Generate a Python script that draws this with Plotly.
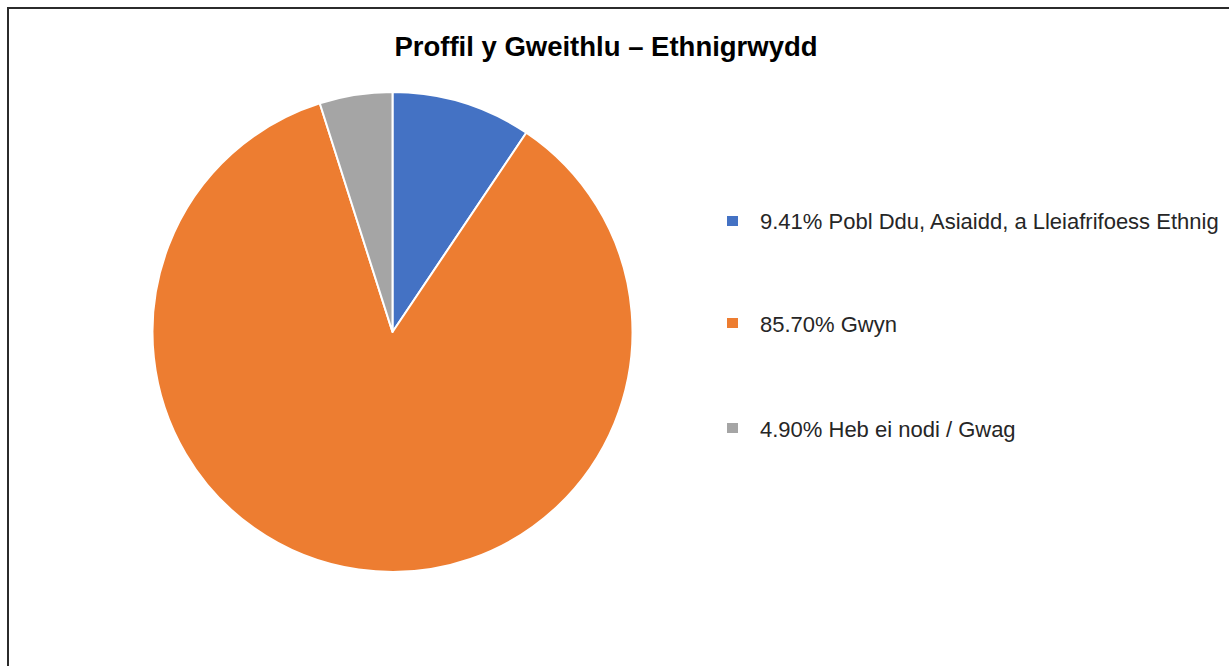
import plotly.graph_objects as go

# Data
categories = ["Pobl Ddu, Asiaidd, a Lleiafrifoess Ethnig", "Gwyn", "Heb ei nodi / Gwag"]
values = [9.41, 85.70, 4.90]
colors = ["#4472C4", "#ED7D31", "#A5A5A5"]
title_text = "Proffil y Gweithlu – Ethnigrwydd"

W, H = 1229, 666
cx, cy, r = 392.5, 332, 240

fig = go.Figure()
fig.add_trace(go.Pie(
    labels=categories,
    values=values,
    sort=False,
    direction="clockwise",
    rotation=0,
    marker=dict(colors=colors, line=dict(color="white", width=2)),
    textinfo="none",
    hoverinfo="label+percent",
    showlegend=False,
    domain=dict(x=[(cx - r) / W, (cx + r) / W],
                y=[(H - cy - r) / H, (H - cy + r) / H]),
))

# Custom legend
legend_y = [221, 323, 428]
shapes = []
annotations = []
for cat, val, col, ly in zip(categories, values, colors, legend_y):
    shapes.append(dict(type="rect", xref="paper", yref="paper",
                       x0=727 / W, x1=738 / W,
                       y0=1 - (ly + 5) / H, y1=1 - (ly - 5) / H,
                       fillcolor=col, line=dict(width=0)))
    annotations.append(dict(xref="paper", yref="paper", x=758 / W, y=1 - (ly + 1) / H,
                            xanchor="left", yanchor="middle", showarrow=False,
                            text=f"{val:.2f}% {cat}",
                            font=dict(family="Liberation Sans, Arial", size=22, color="#262626")))

# Border lines (top and left)
shapes.append(dict(type="line", xref="paper", yref="paper",
                   x0=7 / W, x1=1, y0=1 - 8 / H, y1=1 - 8 / H,
                   line=dict(color="#2b2b2b", width=2)))
shapes.append(dict(type="line", xref="paper", yref="paper",
                   x0=8 / W, x1=8 / W, y0=0, y1=1 - 7 / H,
                   line=dict(color="#2b2b2b", width=2)))

fig.update_layout(
    width=W, height=H,
    margin=dict(l=0, r=0, t=0, b=0),
    paper_bgcolor="white",
    plot_bgcolor="white",
    title=dict(text=f"<b>{title_text}</b>", x=606 / W, xanchor="center",
               y=1 - 46 / H, yanchor="middle",
               font=dict(family="Liberation Sans, Arial", size=27.5, color="#000000")),
    shapes=shapes,
    annotations=annotations,
)

fig.write_html("out.html")
